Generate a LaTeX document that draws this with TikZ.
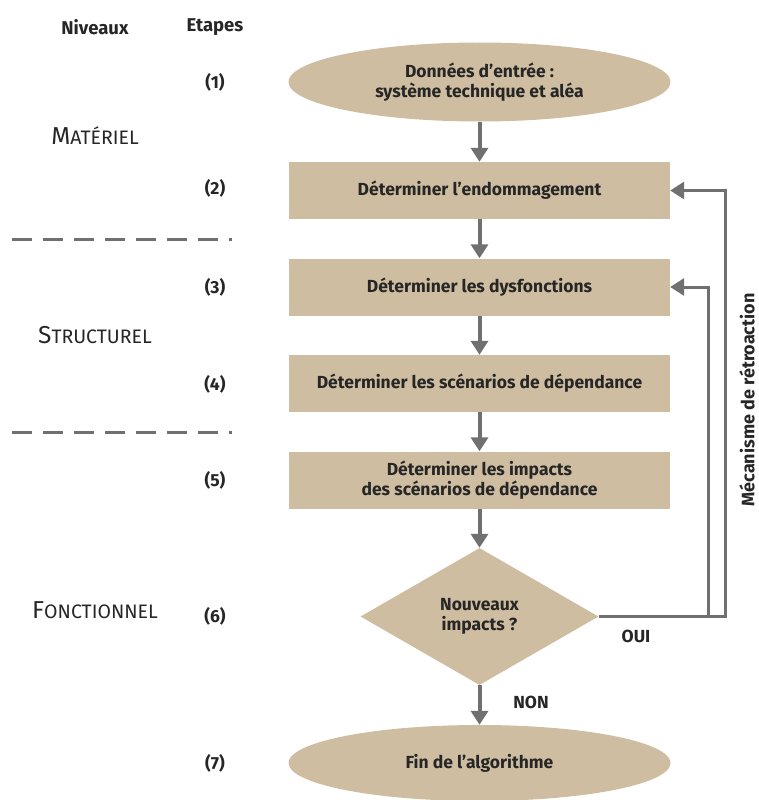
\documentclass[tikz,border=0pt]{standalone}
\usepackage{fontspec}
\setmainfont{Fira Sans}
\usetikzlibrary{arrows.meta,shapes.geometric}
\definecolor{tan}{RGB}{206,189,160}
\definecolor{arr}{RGB}{112,112,112}
\begin{document}
\begin{tikzpicture}[x=1pt,y=-1pt,
  txt/.style={font=\fontsize{17.5}{20.5}\selectfont\bfseries, align=center, text=black!85},
  lvl/.style={font=\fontsize{17}{20}\selectfont, text=black!85},
  stepbox/.style={txt, fill=tan, minimum width=381pt, minimum height=57pt, inner sep=0pt},
  oval/.style={txt, ellipse, fill=tan, minimum width=382pt, minimum height=79pt, inner sep=0pt},
  decision/.style={txt, diamond, fill=tan, minimum width=238pt, minimum height=137pt, inner sep=0pt},
  flow/.style={arr, line width=4pt, -{Triangle[length=14pt,width=17pt]}},
  back/.style={arr, line width=3pt, -{Triangle[length=14pt,width=17pt]}},
  sep/.style={arr, line width=3pt, dash pattern=on 20pt off 11pt}]
\useasboundingbox (0,0) rectangle (758,800);
% headers
\node[txt, font=\fontsize{18.5}{21}\selectfont\bfseries] (hniv) at (95,27) {Niveaux};
\node[txt, font=\fontsize{18.5}{21}\selectfont\bfseries] (heta) at (215,27) {Etapes};
% step numbers
\node[txt] (n1) at (215,82) {(1)};
\node[txt] (n2) at (215,188) {(2)};
\node[txt] (n3) at (215,287) {(3)};
\node[txt] (n4) at (215,384) {(4)};
\node[txt] (n5) at (215,480) {(5)};
\node[txt] (n6) at (215,616) {(6)};
\node[txt] (n7) at (215,763) {(7)};
% levels
\node[lvl] (lmat) at (95,136) {{\fontsize{24.5}{25}\selectfont M}{\fontsize{19.5}{25}\selectfont ATÉRIEL}};
\node[lvl] (lstr) at (95,335) {{\fontsize{24.5}{25}\selectfont S}{\fontsize{19.5}{25}\selectfont TRUCTUREL}};
\node[lvl] (lfon) at (95,610) {{\fontsize{24.5}{25}\selectfont F}{\fontsize{19.5}{25}\selectfont ONCTIONNEL}};
% separators
\coordinate (s1a) at (12,239); \coordinate (s1b) at (232,239);
\coordinate (s2a) at (12,432); \coordinate (s2b) at (232,432);
\draw[sep] (s1a) -- (s1b);
\draw[sep] (s2a) -- (s2b);
% flow nodes
\node[oval] (e1) at (479.5,82) {Données d’entrée :\\système technique et aléa};
\node[stepbox] (b2) at (479.5,190.5) {Déterminer l’endommagement};
\node[stepbox] (b3) at (479.5,287) {Déterminer les dysfonctions};
\node[stepbox] (b4) at (479.5,383.5) {Déterminer les scénarios de dépendance};
\node[stepbox] (b5) at (479.5,480) {Déterminer les impacts\\des scénarios de dépendance};
\node[decision] (d6) at (479.5,616.5) {Nouveaux\\impacts ?};
\node[oval, minimum height=76pt] (e7) at (479.5,763) {Fin de l’algorithme};
% flow arrows
\draw[flow] (e1) -- (b2);
\draw[flow] (b2) -- (b3);
\draw[flow] (b3) -- (b4);
\draw[flow] (b4) -- (b5);
\draw[flow] (b5) -- (d6);
\draw[flow] (d6) -- (e7);
% feedback
\coordinate (c1) at (725,616.5);
\coordinate (c2) at (708,616.5);
\draw[back] (d6.east) -- (c1) |- (b2.east);
\draw[back] (c2) |- (b3.east);
\node[txt, rotate=90, inner sep=0pt, font=\fontsize{18}{21}\selectfont\bfseries] (mec) at (747,400) {Mécanisme de rétroaction};
\node[txt] (oui) at (636,636) {OUI};
\node[txt] (non) at (531,702) {NON};
\end{tikzpicture}
\end{document}
